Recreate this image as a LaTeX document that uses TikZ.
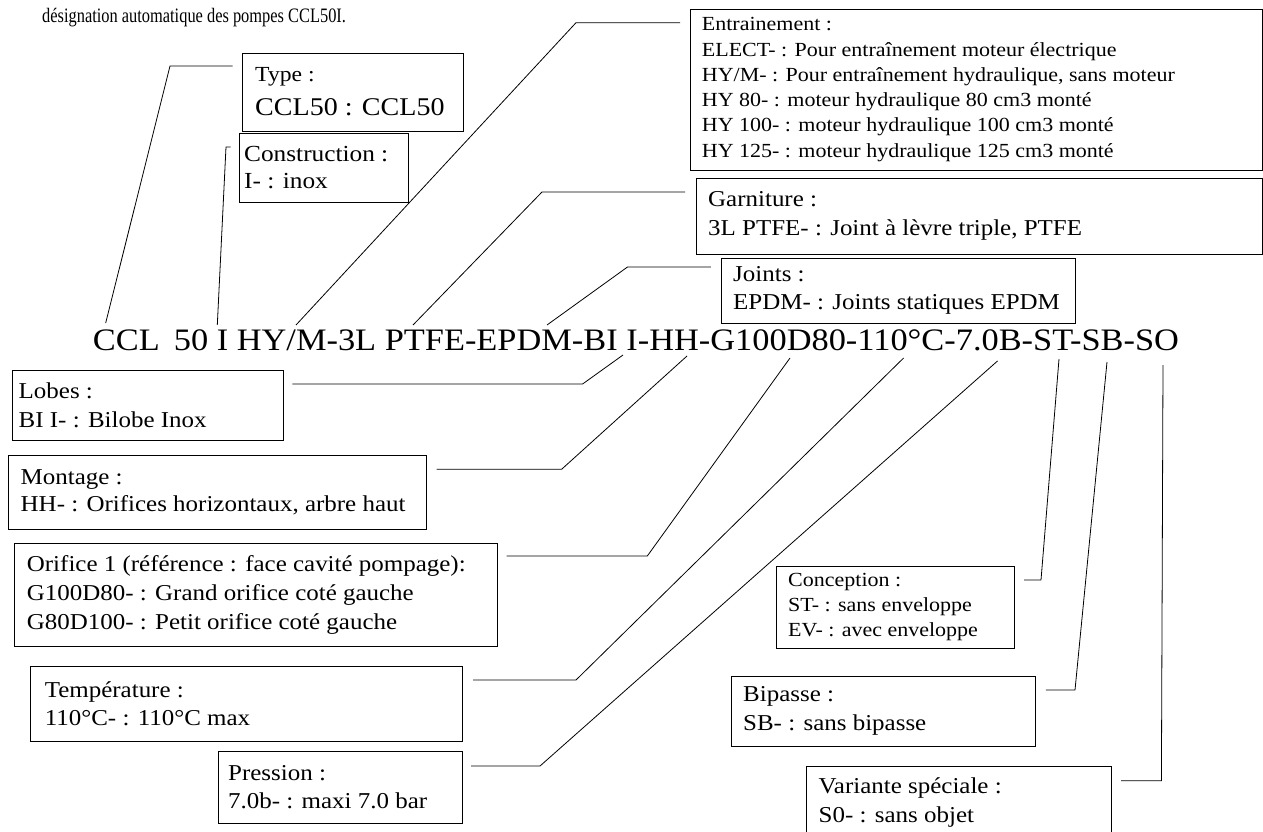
\documentclass[tikz,border=0pt]{standalone}
\usepackage{fontspec}
\setmainfont{Liberation Serif}[FakeStretch=1.1]
\newfontfamily\introserif{Liberation Serif}[FakeStretch=0.8]
\tikzset{
  box/.style={draw, line width=0.9pt, anchor=north west, inner sep=0pt, outer sep=0pt},
  txt/.style={anchor=west, align=left, inner sep=0pt},
  conn/.style={line width=0.8pt},
}
\begin{document}
\begin{tikzpicture}[x=1pt,y=-1pt]
\clip (0,0) rectangle (1263,832);
\fill[white] (0,0) rectangle (1263,832);

% intro text
\node[anchor=base west, inner sep=0pt, font=\introserif\fontsize{20.5}{22}\selectfont] (intro) at (42,23) {désignation automatique des pompes CCL50I.};

% main code
\node[anchor=base west, inner sep=0pt, font=\fontsize{31.25}{36}\selectfont] (code) at (92.7,350.7)
  {CCL\hspace{0.45em}50 I HY/M-3L PTFE-EPDM-BI I-HH-G100D80-110°C-7.0B-ST-SB-SO};

% boxes
\node[box, minimum width=221pt, minimum height=78pt] (type) at (242,53) {};
\node[txt, font=\fontsize{25.5}{34}\selectfont] (typeT) at ([xshift=13pt]type.west)
  {{\fontsize{21.5}{34}\selectfont Type :}\\{\fontsize{25.5}{34}\selectfont CCL50 : CCL50}};

\node[box, minimum width=169pt, minimum height=69pt] (constr) at (239,133) {};
\node[txt, font=\fontsize{23}{26.3}\selectfont] (constrT) at ([xshift=5pt]constr.west)
  {Construction :\\I- : inox};

\node[box, minimum width=572pt, minimum height=161pt] (entr) at (690,9) {};
\node[txt, font=\fontsize{20}{25.3}\selectfont] (entrT) at ([xshift=11.7pt]entr.west)
  {Entrainement :\\
   ELECT- : Pour entraînement moteur électrique\\
   HY/M- : Pour entraînement hydraulique, sans moteur\\
   HY 80- : moteur hydraulique 80 cm3 monté\\
   HY 100- : moteur hydraulique 100 cm3 monté\\
   HY 125- : moteur hydraulique 125 cm3 monté};

\node[box, minimum width=566pt, minimum height=76pt] (garn) at (696,178) {};
\node[txt, font=\fontsize{22.7}{28.5}\selectfont] (garnT) at ([xshift=12pt]garn.west)
  {Garniture :\\3L PTFE- : Joint à lèvre triple, PTFE};

\node[box, minimum width=354pt, minimum height=65pt] (joints) at (721,258) {};
\node[txt, font=\fontsize{22.7}{28}\selectfont] (jointsT) at ([xshift=12pt]joints.west)
  {Joints :\\EPDM- : Joints statiques EPDM};

\node[box, minimum width=271pt, minimum height=70pt] (lobes) at (12.5,370.7) {};
\node[txt, font=\fontsize{22.7}{29}\selectfont] (lobesT) at ([xshift=6pt]lobes.west)
  {Lobes :\\BI I- : Bilobe Inox};

\node[box, minimum width=418pt, minimum height=74.3pt] (montage) at (8,455) {};
\node[txt, font=\fontsize{22.7}{27.4}\selectfont] (montageT) at ([xshift=12.5pt]montage.west)
  {Montage :\\HH- : Orifices horizontaux, arbre haut};

\node[box, minimum width=482.3pt, minimum height=103.4pt] (orifice) at (14.7,543.3) {};
\node[txt, font=\fontsize{22.7}{29.3}\selectfont] (orificeT) at ([xshift=12pt]orifice.west)
  {Orifice 1 (référence : face cavité pompage):\\
   G100D80- : Grand orifice coté gauche\\
   G80D100- : Petit orifice coté gauche};

\node[box, minimum width=432pt, minimum height=74.3pt] (temp) at (30,666.7) {};
\node[txt, font=\fontsize{22.7}{28.3}\selectfont] (tempT) at ([xshift=14.6pt]temp.west)
  {Température :\\110°C- : 110°C max};

\node[box, minimum width=244pt, minimum height=71.3pt] (press) at (218,751.7) {};
\node[txt, font=\fontsize{22.7}{28}\selectfont] (pressT) at ([xshift=10pt]press.west)
  {Pression :\\7.0b- : maxi 7.0 bar};

\node[box, minimum width=238pt, minimum height=82.3pt] (concep) at (776.5,566) {};
\node[txt, font=\fontsize{20}{25}\selectfont] (concepT) at ([xshift=11.5pt]concep.west)
  {Conception :\\ST- : sans enveloppe\\EV- : avec enveloppe};

\node[box, minimum width=304.7pt, minimum height=70pt] (bipasse) at (731,676) {};
\node[txt, font=\fontsize{22.7}{29.3}\selectfont] (bipasseT) at ([xshift=12pt]bipasse.west)
  {Bipasse :\\SB- : sans bipasse};

\node[box, minimum width=305.5pt, minimum height=72pt] (variante) at (806,766.7) {};
\node[txt, font=\fontsize{22.7}{28.7}\selectfont] (varianteT) at ([xshift=12.5pt]variante.west)
  {Variante spéciale :\\S0- : sans objet};

% connector points
\coordinate (a1) at (105.7,323);  \coordinate (b1) at (170,66);     \coordinate (e1) at (232.7,66);
\coordinate (a2) at (217.3,325);  \coordinate (b2) at (226,147);    \coordinate (e2) at (230.7,147);
\coordinate (a3) at (296,325);    \coordinate (b3) at (576,22.7);   \coordinate (e3) at (680,22.7);
\coordinate (a4) at (413,325);    \coordinate (b4) at (542,192);    \coordinate (e4) at (685,192);
\coordinate (a5) at (547,325);    \coordinate (b5) at (627.5,267);  \coordinate (e5) at (710.8,267);
\coordinate (a6) at (623,355);    \coordinate (b6) at (582.6,384);  \coordinate (e6) at (292.4,384);
\coordinate (a7) at (687,356);    \coordinate (b7) at (561.6,469.3);\coordinate (e7) at (436.6,469.3);
\coordinate (a8) at (790,358);    \coordinate (b8) at (647.3,556);  \coordinate (e8) at (506.7,556);
\coordinate (a9) at (903.6,358);  \coordinate (b9) at (576,680);    \coordinate (e9) at (473,680);
\coordinate (a10) at (997.5,361); \coordinate (b10) at (540,766);   \coordinate (e10) at (471,766);
\coordinate (a11) at (1059,359);  \coordinate (b11) at (1041,580);  \coordinate (e11) at (1024,580);
\coordinate (a12) at (1107,362);  \coordinate (b12) at (1075,690);  \coordinate (e12) at (1045.8,690);
\coordinate (a13) at (1163,365);  \coordinate (b13) at (1161.4,780.7); \coordinate (e13) at (1121,780.7);

\foreach \i in {1,...,13} {\draw[conn] (a\i) -- (b\i) -- (e\i);}
\end{tikzpicture}
\end{document}
